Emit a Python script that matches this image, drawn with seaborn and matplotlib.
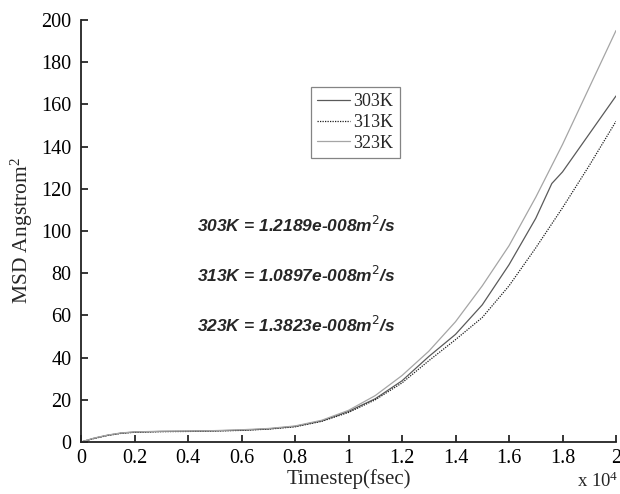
import numpy as np
import pandas as pd
import matplotlib
matplotlib.use("Agg")
import matplotlib.pyplot as plt
import seaborn as sns

# ---- data ----
t_303 = [0, 500, 1000, 1500, 2000, 3000, 4000, 5000, 6000, 7000, 8000, 9000, 10000, 11000,
         12000, 13000, 14000, 15000, 16000, 17000, 17600, 18000, 19000, 20000]
msd_303 = [0, 1.8, 3.2, 4.2, 4.7, 5.0, 5.1, 5.3, 5.6, 6.2, 7.4, 10.0, 14.5, 20.5,
           29.0, 40.5, 51.0, 65.0, 84.0, 106.0, 122.5, 128.0, 146.0, 164.0]

t_313 = [0, 500, 1000, 1500, 2000, 3000, 4000, 5000, 6000, 7000, 8000, 9000, 10000, 11000,
         12000, 13000, 14000, 15000, 16000, 17000, 18000, 19000, 20000]
msd_313 = [0, 1.7, 3.1, 4.1, 4.6, 4.9, 5.0, 5.2, 5.5, 6.1, 7.2, 9.8, 14.0, 20.0,
           28.0, 38.5, 48.5, 59.0, 74.0, 92.0, 111.0, 131.0, 152.0]

t_323 = [0, 500, 1000, 1500, 2000, 3000, 4000, 5000, 6000, 7000, 8000, 9000, 10000, 11000,
         12000, 13000, 14000, 15000, 16000, 17000, 18000, 19000, 20000]
msd_323 = [0, 1.9, 3.3, 4.3, 4.8, 5.1, 5.2, 5.4, 5.8, 6.4, 7.6, 10.3, 15.0, 22.0,
           31.5, 43.0, 57.0, 74.0, 93.0, 116.0, 141.0, 168.0, 195.0]

series_names = ["303K", "313K", "323K"]
x_ticks = [0, 2000, 4000, 6000, 8000, 10000, 12000, 14000, 16000, 18000, 20000]
x_tick_labels = ["0", "0.2", "0.4", "0.6", "0.8", "1", "1.2", "1.4", "1.6", "1.8", "2"]
y_ticks = [0, 20, 40, 60, 80, 100, 120, 140, 160, 180, 200]
annotations = ["303K = 1.2189e-008m$^2$/s",
               "313K = 1.0897e-008m$^2$/s",
               "323K = 1.3823e-008m$^2$/s"]
annot_y = [102.8, 79.0, 55.5]

df = pd.concat([
    pd.DataFrame({"t": t_303, "msd": msd_303, "T": "303K"}),
    pd.DataFrame({"t": t_313, "msd": msd_313, "T": "313K"}),
    pd.DataFrame({"t": t_323, "msd": msd_323, "T": "323K"}),
], ignore_index=True)

sns.set_style("white")
plt.rcParams["font.family"] = ["Liberation Serif", "DejaVu Serif"]
plt.rcParams["mathtext.fontset"] = "custom"
plt.rcParams["mathtext.rm"] = "Liberation Serif"
plt.rcParams["mathtext.it"] = "Liberation Serif:italic"

fig = plt.figure(figsize=(6.2, 4.94), dpi=100)
ax = fig.add_axes([81/620, 1-442/494, (616-81)/620, (442-20)/494])

palette = {"303K": "#5a5a5a", "313K": "#1e1e1e", "323K": "#a5a5a5"}
styles = {"303K": "", "313K": (1, 1), "323K": ""}
sns.lineplot(data=df, x="t", y="msd", hue="T", style="T", hue_order=series_names,
             style_order=series_names, palette=palette, dashes=styles,
             estimator=None, sort=False, linewidth=0.9, ax=ax)

ax.set_xlim(0, 20000)
ax.set_ylim(0, 200)
ax.set_xticks(x_ticks)
ax.set_xticklabels(x_tick_labels)
ax.set_yticks(y_ticks)
ax.tick_params(axis="both", direction="in", length=5, width=1.1, labelsize=14.5,
               colors="black", bottom=True, left=True, top=False, right=False)
ax.tick_params(axis="y", pad=7)
ax.tick_params(axis="x", pad=5)
for s in ["top", "right"]:
    ax.spines[s].set_visible(False)
for s in ["left", "bottom"]:
    ax.spines[s].set_color("#222222")
    ax.spines[s].set_linewidth(1.3)

ax.set_xlabel("Timestep(fsec)", fontsize=15, labelpad=1)
ax.set_ylabel("MSD Angstrom$^2$", fontsize=15.5, labelpad=4)
fig.text(0.997, 0.006, "x 10$^4$", ha="right", va="bottom", fontsize=13.5)

for txt, yv in zip(annotations, annot_y):
    ax.text(4336, yv, txt, ha="left", va="center", fontsize=12.5,
            fontweight="bold", fontstyle="italic", family=["Liberation Sans", "DejaVu Sans"],
            math_fontfamily="dejavusans")

leg = ax.legend(title=None, loc="upper left", bbox_to_anchor=((311-81)/535, (442-87)/422),
                fontsize=13, frameon=True, fancybox=False, shadow=False,
                handlelength=1.8, handletextpad=0.2, labelspacing=0.2,
                borderpad=0.35, borderaxespad=0)
leg.get_frame().set_edgecolor("#666666")
leg.get_frame().set_linewidth(0.9)

fig.savefig("out.png", dpi=100)
